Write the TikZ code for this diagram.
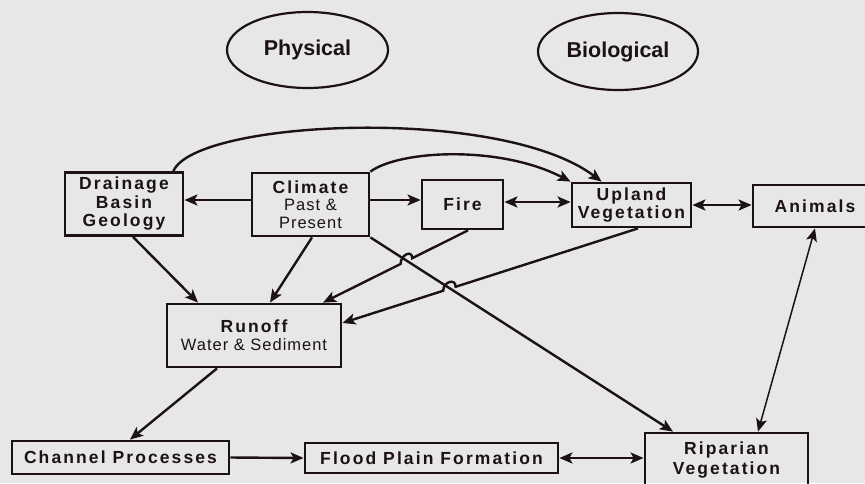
\documentclass[tikz,border=0pt]{standalone}
\usepackage{fontspec}
\setmainfont{Liberation Sans}
\newfontfamily\boxfam[LetterSpace=12]{Liberation Sans}
\newfontfamily\subfam[LetterSpace=6]{Liberation Sans}
\usetikzlibrary{arrows.meta,shapes.geometric,calc}
\definecolor{ink}{RGB}{28,18,22}
\definecolor{paper}{RGB}{231,231,229}
\newcommand{\boxtxt}[1]{\boxfam\bfseries\fontsize{17.5}{#1}\selectfont}
\newcommand{\subtxt}{\subfam\mdseries\fontsize{16.5}{18}\selectfont}
\begin{document}
\begin{tikzpicture}[x=1pt,y=-1pt,
  box/.style={draw=ink, line width=2.8pt, inner sep=0pt, align=center, text=ink, font=\boxtxt{18.5}},
  oval/.style={draw=ink, line width=2.2pt, ellipse, inner sep=0pt, text=ink, font=\bfseries\fontsize{21.5}{25}\selectfont},
  tip/.tip={Stealth[length=13pt,width=11pt,inset=3pt]},
  arr/.style={draw=ink, line width=2.4pt, -tip},
  darr/.style={draw=ink, line width=2.4pt, tip-tip},
  thinarr/.style={draw=ink, line width=1.5pt, tip-tip}]
\useasboundingbox (0,0) rectangle (865,483);
\fill[paper] (0,0) rectangle (865,483);
\clip (0,0) rectangle (865,483);

\node[oval, minimum width=161pt, minimum height=76pt] (phys) at (307.5,50) {Physical};
\node[oval, minimum width=160pt, minimum height=77pt] (bio) at (618,51.5) {Biological};

\node[box, minimum width=118pt, minimum height=63pt] (drain) at (124,204) {Drainage\\Basin\\Geology};
\node[box, minimum width=117pt, minimum height=63pt, font=\boxtxt{17.5}] (climate) at (310.5,204.5) {Climate\\{\subtxt Past \&}\\{\subtxt Present}};
\node[box, minimum width=81pt, minimum height=49pt] (fire) at (462.5,204.5) {Fire};
\node[box, minimum width=119pt, minimum height=44pt, font=\boxtxt{18}] (upland) at (631.5,205) {Upland\\Vegetation};
\node[box, minimum width=124pt, minimum height=42pt] (animals) at (815,206) {Animals};
\node[box, minimum width=174pt, minimum height=63pt, font=\boxtxt{18}] (runoff) at (254,335.5) {Runoff\\{\subtxt Water \& Sediment}};
\node[box, minimum width=217pt, minimum height=33pt] (channel) at (120.5,457.5) {Channel Processes};
\node[box, minimum width=253pt, minimum height=30pt] (flood) at (431.5,458) {Flood Plain Formation};
\node[box, minimum width=163pt, minimum height=54pt, font=\boxtxt{19.5}] (riparian) at (726.5,460) {Riparian\\Vegetation};

% curved connectors to upland vegetation
\coordinate (d1) at ([xshift=-11pt]drain.north east);
\coordinate (u1) at ([xshift=31pt]upland.north west);
\draw[arr] (d1) .. controls (195,120) and (500,105) .. (u1);
\draw[arr] (climate.north east) .. controls (400,150) and (500,145) .. (upland.north west);

% horizontal connectors, top row
\draw[arr] ([yshift=4.5pt]climate.west) -- ([yshift=4pt]drain.east);
\draw[arr] ([yshift=4.5pt]climate.east) -- ([yshift=4.5pt]fire.west);
\draw[darr] ([yshift=2.5pt]fire.east) -- ([yshift=3pt]upland.west);
\draw[darr] (upland.east) -- ([yshift=1pt]animals.west);

% into runoff
\draw[arr] ([xshift=9pt]drain.south) -- ([xshift=-56pt]runoff.north);
\draw[arr] ([xshift=1.5pt]climate.south) -- ([xshift=16pt]runoff.north);

% climate to riparian
\draw[arr] (climate.south east) -- ([xshift=-53.5pt]riparian.north);

% fire to runoff, jumping over
\coordinate (f1) at ([xshift=5.5pt]fire.south);
\coordinate (r1) at ([xshift=69pt]runoff.north);
\draw[arr] (f1) -- ($(f1)!0.385!(r1)$) .. controls +(0,-9) and +(0,-9) .. ($(f1)!0.465!(r1)$) -- (r1);

% upland to runoff, jumping over
\coordinate (u2) at ([xshift=6.5pt]upland.south);
\coordinate (r2) at ([yshift=12.5pt]runoff.east);
\draw[arr] (u2) -- ($(u2)!0.617!(r2)$) .. controls +(0,-9) and +(0,-9) .. ($(u2)!0.659!(r2)$) -- (r2);

% animals and riparian
\draw[thinarr] (animals.south) -- ([xshift=31.5pt]riparian.north);

% bottom row
\draw[arr] ([xshift=-37pt]runoff.south) -- ([xshift=9.5pt]channel.north);
\draw[arr] (channel.east) -- (flood.west);
\draw[darr] (flood.east) -- ([yshift=2pt]riparian.west);
\end{tikzpicture}
\end{document}
